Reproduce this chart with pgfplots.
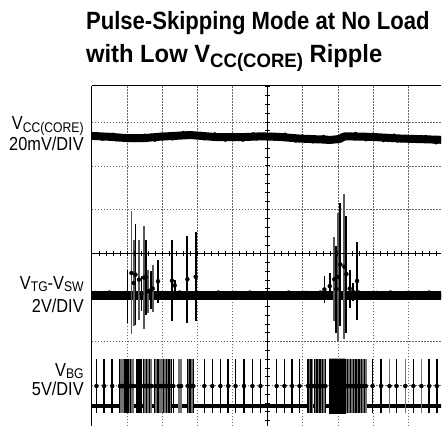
\documentclass[border=0pt]{standalone}
\usepackage{pgfplots}
\pgfplotsset{compat=1.18}
\usepackage{fontspec}
\setmainfont{Liberation Sans}[FakeStretch=0.87]
\newfontfamily\titlefont{Liberation Sans}[FakeStretch=0.885]
\newcommand{\sub}[1]{\raisebox{-2.5pt}{\fontsize{14}{14}\selectfont #1}}
\begin{document}
\begin{tikzpicture}
\begin{axis}[name=main, at={(0,0)}, anchor=south west, scale only axis,
  width=350pt, height=341pt,
  xmin=0, xmax=9.943, ymin=-3.93, ymax=3.82,
  axis x line*=top, axis y line*=left,
  axis line style={-, line width=0.8pt, black},
  xtick={1,2,3,4,6,7,8,9}, ytick={-3,-2,-1,1,2,3},
  xticklabels={}, yticklabels={}, major tick length=0pt,
  grid=major, grid style={black!60, line width=0.55pt, dash pattern=on 1.6pt off 1.4pt},
  clip=true]
% V_CC(CORE) trace: slow level
\addplot[black, line width=8pt, line join=round] coordinates {
(0,2.68)(0.5,2.66)(1.0,2.63)(1.5,2.63)(1.9,2.66)(2.8,2.70)(3.6,2.65)(4.2,2.65)(4.8,2.67)
(5.3,2.66)(5.9,2.62)(6.8,2.59)(7.05,2.61)(7.2,2.67)(7.9,2.66)(8.8,2.62)(10,2.59)};
% V_CC(CORE) trace: noise
\addplot[black, line width=4pt, line join=round] coordinates {
(0.0,2.73)(0.1,2.64)(0.2,2.70)(0.3,2.61)(0.4,2.70)(0.5,2.64)(0.6,2.71)(0.7,2.60)(0.8,2.66)(0.9,2.60)
(1.0,2.60)(1.1,2.68)(1.2,2.58)(1.3,2.65)(1.4,2.59)(1.5,2.69)(1.6,2.62)(1.7,2.69)(1.8,2.59)(1.9,2.69)
(2.0,2.71)(2.1,2.63)(2.2,2.70)(2.3,2.62)(2.4,2.72)(2.5,2.67)(2.6,2.75)(2.7,2.65)(2.8,2.72)(2.9,2.66)
(3.0,2.66)(3.1,2.73)(3.2,2.62)(3.3,2.69)(3.4,2.62)(3.5,2.72)(3.6,2.63)(3.7,2.69)(3.8,2.59)(3.9,2.68)
(4.0,2.70)(4.1,2.61)(4.2,2.68)(4.3,2.59)(4.4,2.70)(4.5,2.64)(4.6,2.72)(4.7,2.62)(4.8,2.69)(4.9,2.64)
(5.0,2.64)(5.1,2.71)(5.2,2.61)(5.3,2.68)(5.4,2.61)(5.5,2.71)(5.6,2.62)(5.7,2.67)(5.8,2.57)(5.9,2.65)
(6.0,2.67)(6.1,2.57)(6.2,2.64)(6.3,2.55)(6.4,2.64)(6.5,2.58)(6.6,2.66)(6.7,2.54)(6.8,2.61)(6.9,2.57)
(7.0,2.58)(7.1,2.69)(7.2,2.62)(7.3,2.69)(7.4,2.63)(7.5,2.73)(7.6,2.64)(7.7,2.70)(7.8,2.60)(7.9,2.69)
(8.0,2.70)(8.1,2.61)(8.2,2.67)(8.3,2.58)(8.4,2.67)(8.5,2.61)(8.6,2.69)(8.7,2.57)(8.8,2.64)(8.9,2.59)
(9.0,2.58)(9.1,2.66)(9.2,2.56)(9.3,2.62)(9.4,2.56)(9.5,2.66)(9.6,2.58)(9.7,2.63)(9.8,2.53)(9.9,2.62)(10.0,2.59)};
% V_TG - V_SW: slow level
\addplot[black, line width=9pt] coordinates {(0,-0.95)(10,-0.95)};
% V_TG - V_SW: noise
\addplot[black, line width=4pt, line join=round] coordinates {
(0.0,-0.97)(0.1,-0.89)(0.2,-0.99)(0.3,-0.92)(0.4,-0.98)(0.5,-0.88)(0.6,-0.96)(0.7,-0.90)(0.8,-1.00)(0.9,-0.91)
(1.0,-0.89)(1.1,-0.98)(1.2,-0.91)(1.3,-1.00)(1.4,-0.90)(1.5,-0.96)(1.6,-0.88)(1.7,-0.99)(1.8,-0.92)(1.9,-0.97)
(2.0,-0.97)(2.1,-0.89)(2.2,-0.99)(2.3,-0.92)(2.4,-0.98)(2.5,-0.88)(2.6,-0.96)(2.7,-0.90)(2.8,-1.00)(2.9,-0.91)
(3.0,-0.89)(3.1,-0.98)(3.2,-0.91)(3.3,-1.00)(3.4,-0.90)(3.5,-0.96)(3.6,-0.88)(3.7,-0.99)(3.8,-0.92)(3.9,-0.97)
(4.0,-0.97)(4.1,-0.89)(4.2,-0.99)(4.3,-0.92)(4.4,-0.98)(4.5,-0.88)(4.6,-0.96)(4.7,-0.90)(4.8,-1.00)(4.9,-0.91)
(5.0,-0.89)(5.1,-0.98)(5.2,-0.91)(5.3,-1.00)(5.4,-0.90)(5.5,-0.96)(5.6,-0.88)(5.7,-0.99)(5.8,-0.92)(5.9,-0.97)
(6.0,-0.97)(6.1,-0.89)(6.2,-0.99)(6.3,-0.92)(6.4,-0.98)(6.5,-0.88)(6.6,-0.96)(6.7,-0.90)(6.8,-1.00)(6.9,-0.91)
(7.0,-0.89)(7.1,-0.98)(7.2,-0.91)(7.3,-1.00)(7.4,-0.90)(7.5,-0.96)(7.6,-0.88)(7.7,-0.99)(7.8,-0.92)(7.9,-0.97)
(8.0,-0.97)(8.1,-0.89)(8.2,-0.99)(8.3,-0.92)(8.4,-0.98)(8.5,-0.88)(8.6,-0.96)(8.7,-0.90)(8.8,-1.00)(8.9,-0.91)
(9.0,-0.89)(9.1,-0.98)(9.2,-0.91)(9.3,-1.00)(9.4,-0.90)(9.5,-0.96)(9.6,-0.88)(9.7,-0.99)(9.8,-0.92)(9.9,-0.97)(10.0,-0.94)};
% V_TG - V_SW switching spikes (black)
\addplot[only marks, mark=none, error bars/.cd, y dir=both, y explicit, error mark=none,
  error bar style={black, line width=1.8pt, solid}] coordinates {
(1.014,-0.97) +- (0,0.605)
(1.241,-0.477) +- (0,1.159)
(1.412,-0.914) +- (0,0.398)
(1.534,-0.534) +- (0,0.852)
(1.676,-0.837) +- (0,0.435)
(1.884,-0.628) +- (0,0.492)
(2.281,-0.618) +- (0,0.92)
(2.358,-0.724) +- (0,0.133)
(2.719,-0.583) +- (0,0.992)
(2.955,-0.527) +- (0,1.011)
(6.619,-0.815) +- (0,0.299)
(6.77,-0.739) +- (0,0.307)
(6.96,-0.807) +- (0,0.989)
(7.074,-0.247) +- (0,1.406)
(7.244,-0.466) +- (0,1.33)
(7.338,-0.795) +- (0,0.432)
(7.435,-0.872) +- (0,0.213)
(7.548,-0.622) +- (0,0.878)};
% V_TG - V_SW switching spikes (grey)
\addplot[only marks, mark=none, error bars/.cd, y dir=both, y explicit, error mark=none,
  error bar style={black!65, line width=1.9pt, solid}] coordinates {
(1.128,-0.44) +- (0,1.401)
(1.193,-0.667) +- (0,0.985)
(1.344,-0.591) +- (0,0.909)
(1.486,-0.545) +- (0,1.18)
(1.599,-0.856) +- (0,0.492)
(1.733,-0.795) +- (0,0.545)
(6.903,-0.584) +- (0,0.955)
(7.017,-0.534) +- (0,1.459)
(7.188,-0.299) +- (0,1.656)};
% V_BG baseline
\addplot[black, line width=3.2pt] coordinates {(0,-3.47) (10,-3.47)};
% V_BG pulses (black)
\addplot[only marks, mark=none, error bars/.cd, y dir=both, y fixed=0.622, error mark=none,
  error bar style={black, line width=1.5pt, solid}] coordinates {
(0.13,-3.015)(0.35,-3.015)(0.58,-3.015)(0.80,-3.015)(0.86,-3.015)(0.95,-3.015)(0.97,-3.015)
(0.99,-3.015)(1.01,-3.015)(1.03,-3.015)(1.05,-3.015)(1.11,-3.015)(1.17,-3.015)(1.28,-3.015)
(1.30,-3.015)(1.32,-3.015)(1.34,-3.015)(1.36,-3.015)(1.38,-3.015)(1.40,-3.015)(1.47,-3.015)
(1.56,-3.015)(1.65,-3.015)(1.80,-3.015)(1.86,-3.015)(1.88,-3.015)(1.90,-3.015)(1.92,-3.015)
(1.97,-3.015)(2.03,-3.015)(2.12,-3.015)(2.20,-3.015)(2.27,-3.015)(2.32,-3.015)(2.73,-3.015)
(2.79,-3.015)(2.82,-3.015)(2.89,-3.015)(3.20,-3.015)(3.43,-3.015)(3.66,-3.015)(3.88,-3.015)
(4.09,-3.015)(4.33,-3.015)(4.57,-3.015)(4.80,-3.015)(5.26,-3.015)(5.48,-3.015)(5.70,-3.015)
(5.91,-3.015)(6.15,-3.015)(6.24,-3.015)(6.33,-3.015)(6.41,-3.015)(6.49,-3.015)(6.57,-3.015)
(6.65,-3.015)(7.28,-3.015)(7.36,-3.015)(7.44,-3.015)(7.52,-3.015)(7.60,-3.015)(7.68,-3.015)
(7.76,-3.015)(7.99,-3.015)(8.23,-3.015)(8.67,-3.015)(9.15,-3.015)(9.60,-3.015)(9.82,-3.015)};
% V_BG pulses (grey)
\addplot[only marks, mark=none, error bars/.cd, y dir=both, y fixed=0.622, error mark=none,
  error bar style={black!55, line width=1.3pt, solid}] coordinates {
(0.83,-3.015)(0.88,-3.015)(0.91,-3.015)(1.08,-3.015)(1.14,-3.015)(1.19,-3.015)(1.50,-3.015)
(1.53,-3.015)(1.59,-3.015)(1.62,-3.015)(1.68,-3.015)(1.70,-3.015)(1.83,-3.015)(1.94,-3.015)
(2.00,-3.015)(2.08,-3.015)(2.16,-3.015)(2.24,-3.015)(2.48,-3.015)(2.54,-3.015)(2.76,-3.015)
(2.85,-3.015)(6.19,-3.015)(6.28,-3.015)(6.37,-3.015)(6.45,-3.015)(6.53,-3.015)(6.61,-3.015)
(7.24,-3.015)(7.32,-3.015)(7.40,-3.015)(7.48,-3.015)(7.56,-3.015)(7.64,-3.015)(7.72,-3.015)
(7.80,-3.015)(8.47,-3.015)(8.92,-3.015)(9.38,-3.015)};
% V_BG dense burst (solid block)
\addplot[fill=black, draw=black, line width=0.4pt] coordinates {
(6.76,-3.637) (7.22,-3.637) (7.22,-2.393) (6.76,-2.393) (6.76,-3.637)};
\end{axis}
% centre axes with division ticks
\begin{axis}[at={(0,0)}, anchor=south west, scale only axis,
  width=350pt, height=341pt,
  xmin=-5, xmax=4.943, ymin=-3.93, ymax=3.82,
  axis lines=middle,
  x axis line style={-, line width=1.6pt, black},
  y axis line style={-, line width=0.7pt, black},
  xtick={-4.8,-4.6,...,4.8}, ytick={-3.8,-3.6,...,3.8},
  xticklabels={}, yticklabels={},
  tick align=center, major tick length=5pt,
  tick style={black, line width=0.6pt}]
\end{axis}
% title
\node[anchor=base west, inner sep=0, xshift=-6pt, yshift=56pt, font=\titlefont\fontsize{25}{30}\selectfont\bfseries] at (main.north west) {Pulse-Skipping Mode at No Load};
\node[anchor=base west, inner sep=0, xshift=-6pt, yshift=23pt, font=\titlefont\fontsize{25}{30}\selectfont\bfseries] at (main.north west) {\scalebox{1.077}[1]{with Low V\raisebox{-5pt}{\fontsize{19.5}{20}\selectfont CC(CORE)} Ripple}};
% channel labels
\begin{scope}[every node/.style={anchor=base east, inner sep=0, font=\fontsize{18.8}{21}\selectfont}]
\node[xshift=-8pt, yshift=-44pt] at (main.north west) {V\sub{CC(CORE)}};
\node[xshift=-8pt, yshift=-65pt] at (main.north west) {20mV/DIV};
\node[xshift=-8pt, yshift=-204pt] at (main.north west) {V\sub{TG}-V\sub{SW}};
\node[xshift=-8pt, yshift=-227pt] at (main.north west) {2V/DIV};
\node[xshift=-8pt, yshift=-290.7pt] at (main.north west) {V\sub{BG}};
\node[xshift=-8pt, yshift=-310.7pt] at (main.north west) {5V/DIV};
\end{scope}
\useasboundingbox ([xshift=-92pt]main.south west) rectangle ([yshift=86pt]main.north east);
\end{tikzpicture}
\end{document}
